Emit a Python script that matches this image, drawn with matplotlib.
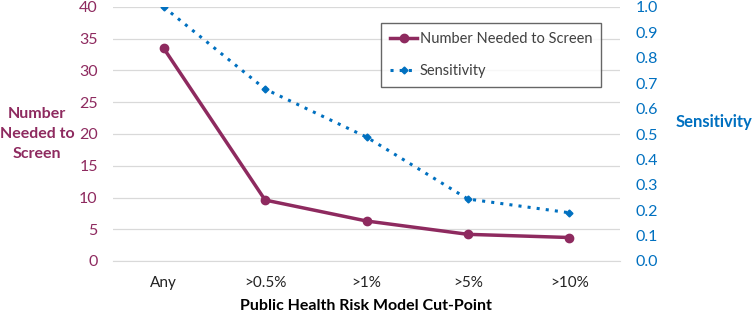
import matplotlib
matplotlib.use("Agg")
import matplotlib.pyplot as plt

categories = ["Any", ">0.5%", ">1%", ">5%", ">10%"]
nns = [33.5, 9.6, 6.3, 4.2, 3.7]
sensitivity = [1.0, 0.677, 0.488, 0.244, 0.19]
left_ticks = [0, 5, 10, 15, 20, 25, 30, 35, 40]
right_ticks = [0.0, 0.1, 0.2, 0.3, 0.4, 0.5, 0.6, 0.7, 0.8, 0.9, 1.0]

maroon = "#8E2A5F"
blue = "#0070C0"
plt.rcParams['font.family'] = ['Lato', 'DejaVu Sans']

fig = plt.figure(figsize=(7.52, 3.25), dpi=100)
ax = fig.add_axes([113/752, 1-261/325, (620-113)/752, (261-7)/325])
ax2 = ax.twinx()

x = list(range(len(categories)))
l1, = ax.plot(x, nns, color=maroon, lw=2.5, marker='o', ms=6, label="Number Needed to Screen", zorder=3)
l2, = ax2.plot(x, sensitivity, color=blue, lw=2.2, ls=(0, (1, 2.0)), marker='D', ms=3.5, label="Sensitivity", zorder=3)

ax.set_xlim(-0.5, len(categories)-0.5)
ax.set_ylim(0, 40)
ax2.set_ylim(0, 1.0)
ax.set_yticks(left_ticks)
ax.set_yticklabels([str(t) for t in left_ticks])
ax2.set_yticks(right_ticks)
ax2.set_yticklabels([f"{t:.1f}" for t in right_ticks])
ax.set_xticks(x)
ax.set_xticklabels(categories)

ax.grid(axis='y', color='#D9D9D9', lw=0.9)
ax.set_axisbelow(True)
for a in (ax, ax2):
    for s in a.spines.values():
        s.set_visible(False)
ax.spines['bottom'].set_visible(True)
ax.spines['bottom'].set_color('#D9D9D9')
ax.tick_params(axis='y', length=0, labelsize=11.5, labelcolor=maroon, pad=11)
ax2.tick_params(axis='y', length=0, labelsize=11.5, labelcolor=blue, pad=11)
ax.tick_params(axis='x', length=0, labelsize=11, labelcolor='#222222', pad=11)

fig.text(37/752, 1-134/325, "Number\nNeeded to\nScreen", color=maroon, fontsize=11.5,
         fontweight='bold', ha='center', va='center', linespacing=1.55)
fig.text(714/752, 1-122/325, "Sensitivity", color=blue, fontsize=12,
         fontweight='bold', ha='center', va='center')
fig.text(366/752, 1-306/325, "Public Health Risk Model Cut-Point", color='black',
         fontsize=11.5, fontweight='bold', ha='center', va='center')

leg = ax.legend(handles=[l1, l2], loc='upper left', bbox_to_anchor=((381-113)/507, (261-23)/254),
                borderaxespad=0, fontsize=10.5, frameon=True, fancybox=False, edgecolor='#404040',
                handlelength=1.85, handletextpad=0.15, borderpad=0.64, labelspacing=1.2)
leg.get_frame().set_linewidth(1.0)
for t in leg.get_texts():
    t.set_color('#404040')

fig.savefig("out.png", dpi=100)
